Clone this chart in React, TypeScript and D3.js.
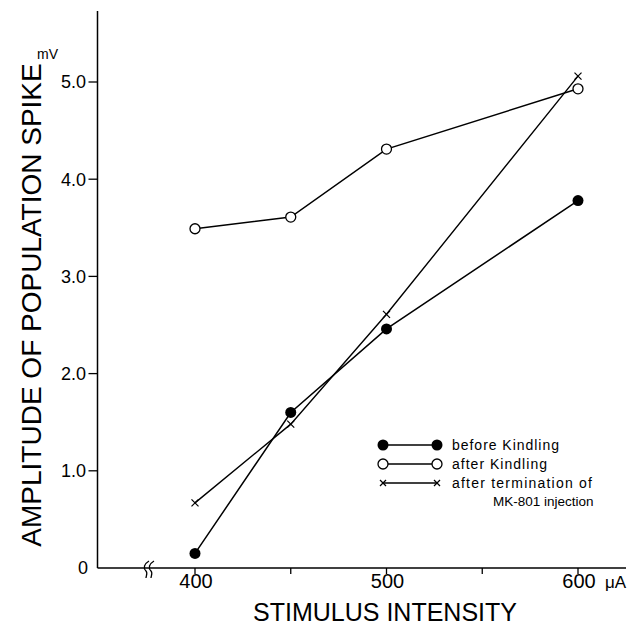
import React from "react";
import * as d3 from "d3";

const stimulus = [400, 450, 500, 600];
const beforeKindling = [0.15, 1.6, 2.46, 3.78];
const afterKindling = [3.49, 3.61, 4.31, 4.93];
const afterMK801 = [0.67, 1.48, 2.61, 5.06];

const yTicks = [0, 1, 2, 3, 4, 5];
const yTickLabels = ["0", "1.0", "2.0", "3.0", "4.0", "5.0"];
const xTicks = [400, 450, 500, 550, 600];
const xTickLabels = ["400", "", "500", "", "600"];

const W = 635;
const H = 630;
const FONT = "'Liberation Sans', Arial, Helvetica, sans-serif";

const x = d3.scaleLinear().domain([400, 600]).range([195, 578]);
const y = d3.scaleLinear().domain([0, 5]).range([568, 82]);

const axisX0 = 97.5;
const axisYTop = 11;
const axisXRight = 626;

function Cross({ cx, cy, s = 3.5 }: { cx: number; cy: number; s?: number }) {
  return (
    <g stroke="#000" strokeWidth={1.2}>
      <line x1={cx - s} y1={cy - s} x2={cx + s} y2={cy + s} />
      <line x1={cx - s} y1={cy + s} x2={cx + s} y2={cy - s} />
    </g>
  );
}

export default function App() {
  const line = d3
    .line<[number, number]>()
    .x((d) => x(d[0]))
    .y((d) => y(d[1]));
  const pts = (vals: number[]) => stimulus.map((s, i) => [s, vals[i]] as [number, number]);

  const bx = 145;
  const by = 569;
  const breakPath = (ox: number) =>
    `M${ox + 4},${by - 8} C${ox - 1},${by - 5} ${ox - 2},${by - 1} ${ox + 1},${by + 2} C${ox + 3},${by + 4} ${ox + 1},${by + 7} ${ox + 1},${by + 9}`;

  return (
    <svg
      width={W}
      height={H}
      style={{ position: "absolute", left: 0, top: 0, background: "#fff" }}
      fontFamily={FONT}
    >
      <rect width={W} height={H} fill="#fff" />
      {/* axes */}
      <line x1={axisX0} y1={axisYTop} x2={axisX0} y2={y(0)} stroke="#000" strokeWidth={1.5} />
      <line x1={axisX0} y1={y(0)} x2={axisXRight} y2={y(0)} stroke="#000" strokeWidth={1.5} />
      {/* break */}
      <path d={breakPath(bx)} fill="none" stroke="#000" strokeWidth={1.3} />
      <path d={breakPath(bx + 5)} fill="none" stroke="#000" strokeWidth={1.3} />

      {/* y ticks */}
      {yTicks.map((t, i) => (
        <g key={"y" + t}>
          {t !== 0 && (
            <line x1={axisX0 - 9} x2={axisX0} y1={y(t)} y2={y(t)} stroke="#000" strokeWidth={1.3} />
          )}
          <text
            x={t === 0 ? 88 : 86}
            y={y(t)}
            dy="0.36em"
            textAnchor="end"
            fontSize={18}
            fill="#000"
          >
            {yTickLabels[i]}
          </text>
        </g>
      ))}
      <text x={37} y={59} fontSize={14} fill="#000">
        mV
      </text>

      {/* x ticks */}
      {xTicks.map((t, i) => (
        <g key={"x" + t}>
          <line x1={x(t)} x2={x(t)} y1={y(0)} y2={y(0) + 6} stroke="#000" strokeWidth={1.3} />
          {xTickLabels[i] && (
            <text x={x(t) + 1} y={588} textAnchor="middle" fontSize={20} fill="#000">
              {xTickLabels[i]}
            </text>
          )}
        </g>
      ))}
      <text x={605} y={588} fontSize={17} fill="#000">
        {"\u03bcA"}
      </text>

      {/* axis titles */}
      <text x={385} y={621} textAnchor="middle" fontSize={25} fill="#000">
        STIMULUS INTENSITY
      </text>
      <text
        transform={`translate(41,305) rotate(-90)`}
        textAnchor="middle"
        fontSize={28}
        fill="#000"
      >
        AMPLITUDE OF POPULATION SPIKE
      </text>

      {/* series lines */}
      <path d={line(pts(afterKindling)) || ""} fill="none" stroke="#000" strokeWidth={1.5} />
      <path d={line(pts(beforeKindling)) || ""} fill="none" stroke="#000" strokeWidth={1.5} />
      <path d={line(pts(afterMK801)) || ""} fill="none" stroke="#000" strokeWidth={1.4} />

      {/* markers */}
      {stimulus.map((s, i) => (
        <circle key={"o" + s} cx={x(s)} cy={y(afterKindling[i])} r={5} fill="#fff" stroke="#000" strokeWidth={1.3} />
      ))}
      {stimulus.map((s, i) => (
        <circle key={"f" + s} cx={x(s)} cy={y(beforeKindling[i])} r={5.5} fill="#000" />
      ))}
      {stimulus.map((s, i) => (
        <Cross key={"c" + s} cx={x(s)} cy={y(afterMK801[i])} />
      ))}

      {/* legend */}
      <g fontSize={14} fill="#000">
        <line x1={383} x2={437} y1={445} y2={445} stroke="#000" strokeWidth={1.5} />
        <circle cx={383} cy={445} r={5.5} fill="#000" />
        <circle cx={437} cy={445} r={5.5} fill="#000" />
        <text x={452} y={450} textLength={107} lengthAdjust="spacing">before Kindling</text>

        <line x1={383} x2={437} y1={464} y2={464} stroke="#000" strokeWidth={1.5} />
        <circle cx={383} cy={464} r={5} fill="#fff" stroke="#000" strokeWidth={1.3} />
        <circle cx={437} cy={464} r={5} fill="#fff" stroke="#000" strokeWidth={1.3} />
        <text x={452} y={469} textLength={95} lengthAdjust="spacing">after Kindling</text>

        <line x1={383} x2={437} y1={483} y2={483} stroke="#000" strokeWidth={1.5} />
        <Cross cx={383} cy={483} s={3} />
        <Cross cx={437} cy={483} s={3} />
        <text x={452} y={488} textLength={140} lengthAdjust="spacing">after termination of</text>
        <text x={493} y={506} fontSize={13.5}>MK-801 injection</text>
      </g>
    </svg>
  );
}
